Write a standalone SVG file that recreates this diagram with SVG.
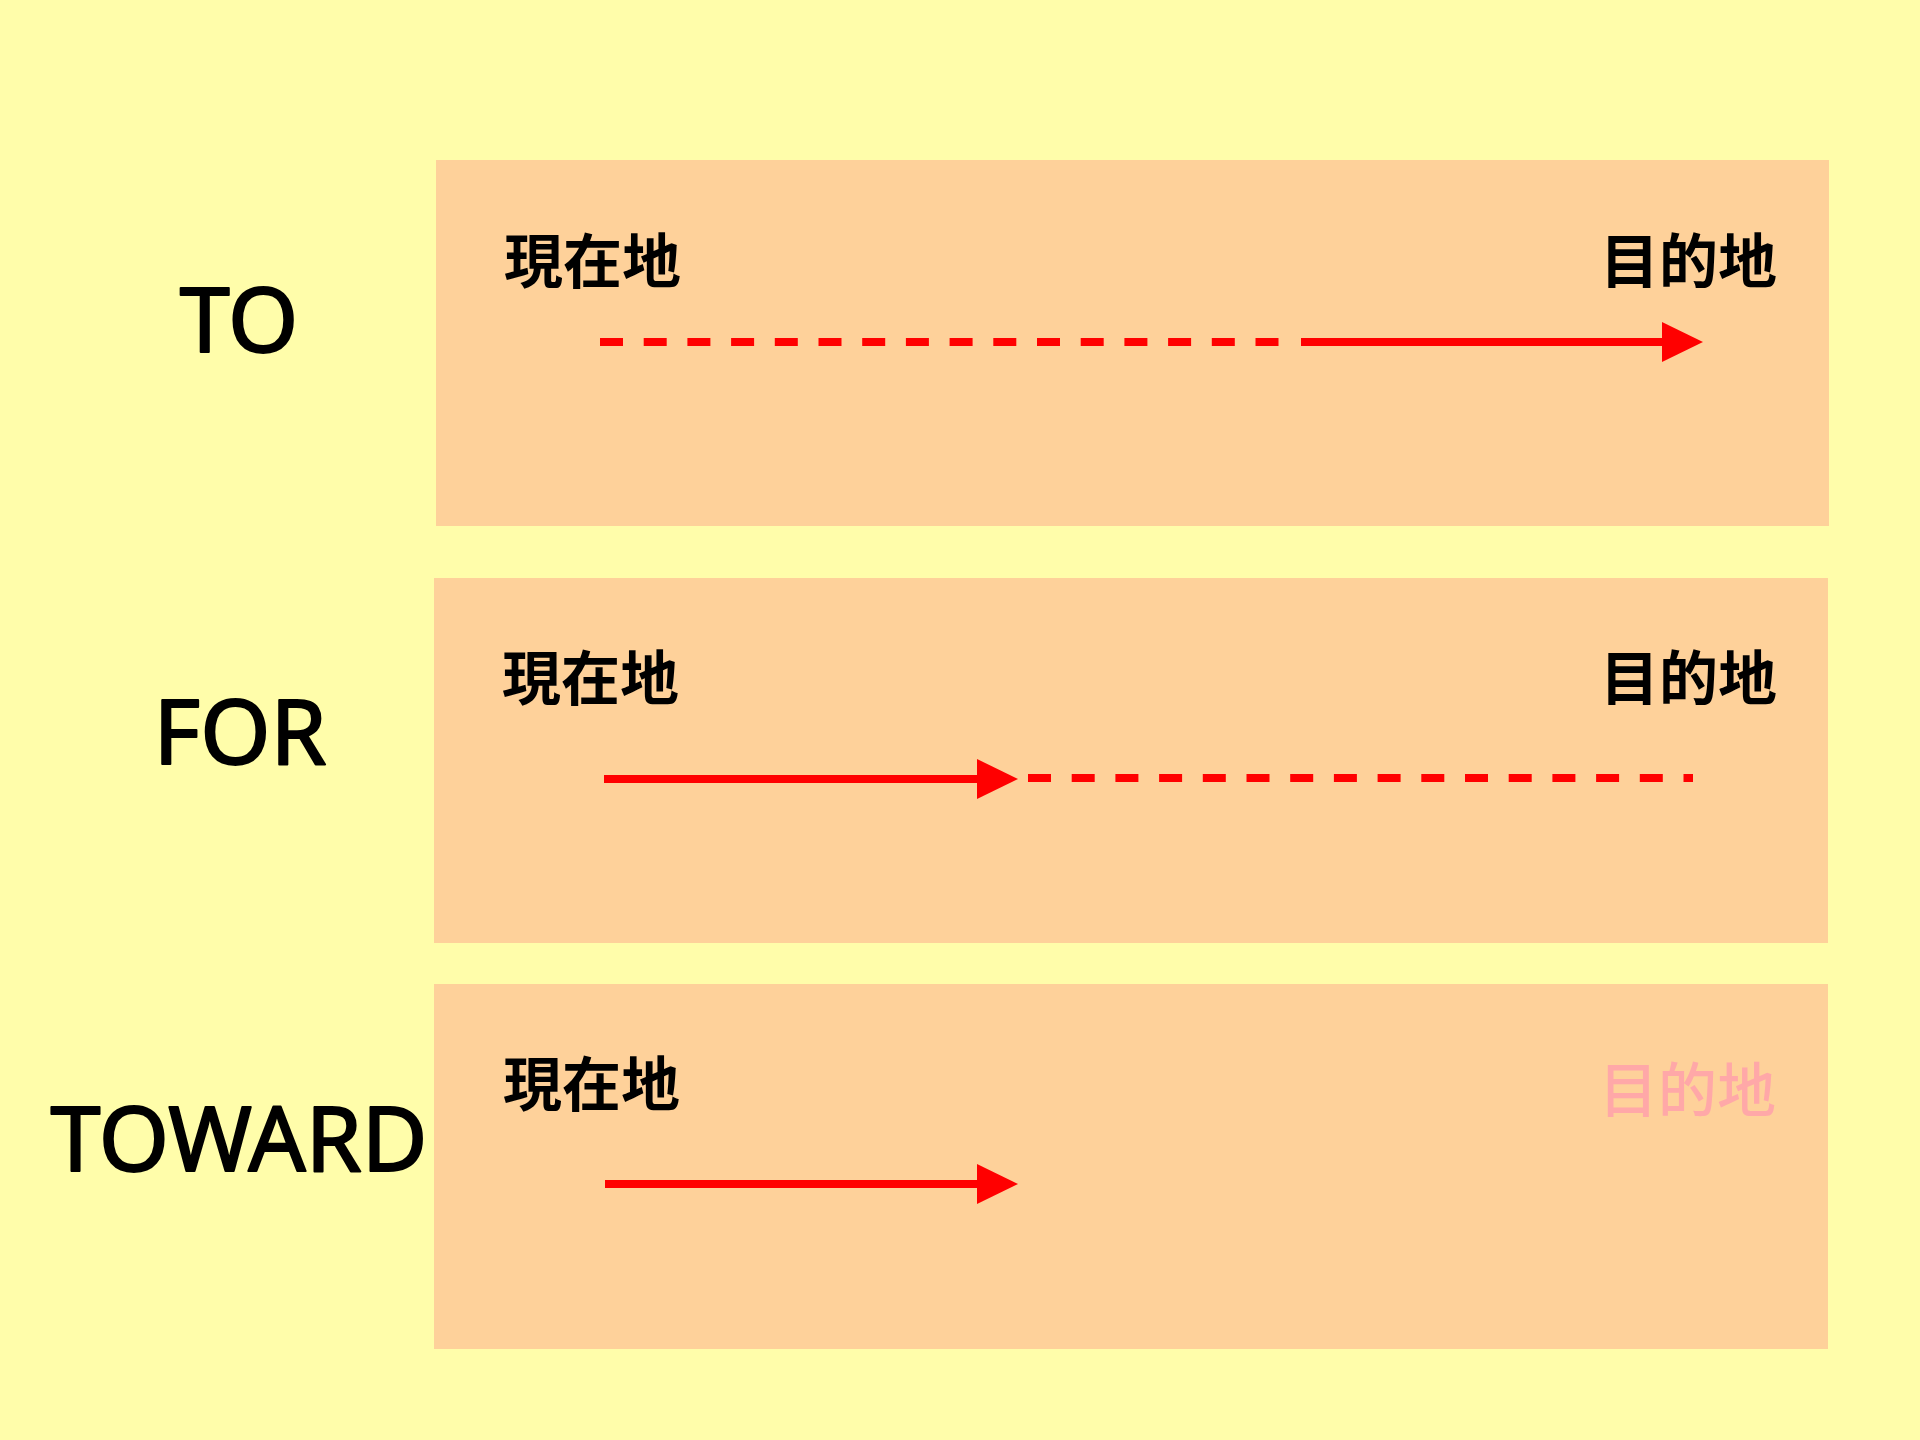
<svg xmlns="http://www.w3.org/2000/svg" width="1920" height="1440" viewBox="0 0 1920 1440">
  <style>
    .bg { fill: #FFFDAA; }
    .panel { fill: #FED19A; }
    .kw { font-family: "Noto Sans", "Open Sans", "Liberation Sans", sans-serif; font-size: 90px; fill: #000000; stroke: #000000; stroke-width: 2; stroke-linejoin: round; text-anchor: middle; }
    .place { font-family: "Noto Sans CJK TC", "Noto Sans CJK JP", sans-serif; font-size: 59px; font-weight: 700; fill: #000000; }
    .faded { font-family: "Noto Sans CJK TC", "Noto Sans CJK JP", sans-serif; font-size: 59px; font-weight: 500; fill: #FFA8A8; }
    .solid { stroke: #FF0000; stroke-width: 8; fill: none; }
    .dash { stroke: #FF0000; stroke-width: 8; fill: none; stroke-dasharray: 23 20.7; }
  </style>
  <defs>
    <marker id="head" viewBox="0 0 41 40" refX="0" refY="20" markerWidth="41" markerHeight="40" markerUnits="userSpaceOnUse" orient="auto">
      <path d="M0,0 L41,20 L0,40 z" fill="#FF0000"/>
    </marker>
  </defs>
  <rect class="bg" x="0" y="0" width="1920" height="1440"/>

  <g id="row-to">
    <rect class="panel" x="436" y="160" width="1393" height="366"/>
    <text class="kw" x="239" y="352">TO</text>
    <text class="place" x="504" y="283">現在地</text>
    <text class="place" x="1600" y="283">目的地</text>
  </g>

  <g id="row-for">
    <rect class="panel" x="434" y="578" width="1394" height="365"/>
    <text class="kw" x="240" y="764">FOR</text>
    <text class="place" x="502" y="700">現在地</text>
    <text class="place" x="1600" y="700">目的地</text>
  </g>

  <g id="row-toward">
    <rect class="panel" x="434" y="984" width="1394" height="365"/>
    <text class="kw" x="239" y="1171">TOWARD</text>
    <text class="place" x="503" y="1106">現在地</text>
    <text class="faded" x="1599" y="1112">目的地</text>
  </g>

  <g id="connectors">
    <line class="dash" x1="600" y1="342" x2="1279" y2="342"/>
    <line class="solid" x1="1301" y1="342" x2="1662" y2="342" marker-end="url(#head)"/>
    <line class="solid" x1="604" y1="779" x2="977" y2="779" marker-end="url(#head)"/>
    <line class="dash" x1="1028" y1="778" x2="1693" y2="778"/>
    <line class="solid" x1="605" y1="1184" x2="977" y2="1184" marker-end="url(#head)"/>
  </g>
</svg>
